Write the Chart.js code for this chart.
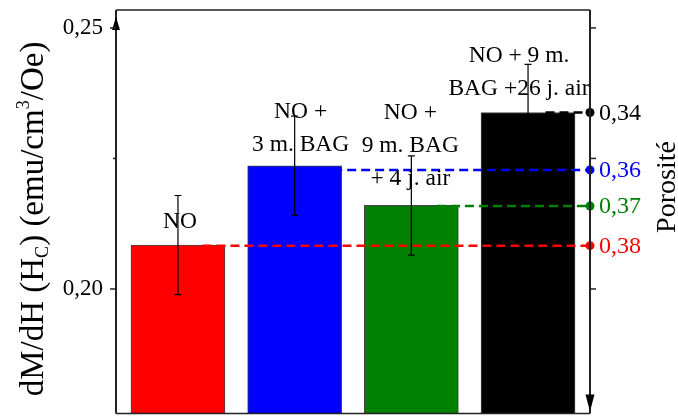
<!DOCTYPE html>
<html>
<head>
<meta charset="utf-8">
<script src="https://cdn.jsdelivr.net/npm/chart.js@4.4.1/dist/chart.umd.min.js"></script>
<style>
  html, body { margin: 0; padding: 0; background: #fff; }
  #wrap { width: 678px; height: 418px; }
</style>
</head>
<body>
<div id="wrap"><canvas id="chart" width="678" height="418"></canvas></div>
<script>
// ---- data ----
const categories = ['NO', 'NO + 3 m. BAG', 'NO + 9 m. BAG + 4 j. air', 'NO + 9 m. BAG +26 j. air'];
const barLabelLines = [
    ['NO'],
    ['NO +', '3 m. BAG'],
    ['NO +', '9 m. BAG', '+ 4 j. air'],
    ['NO + 9 m.', 'BAG +26 j. air']
];
const dMdH = [0.2084, 0.2236, 0.2160, 0.2338];
const dMdHErr = [0.0095, 0.0095, 0.0095, 0.0092];
const barColors = ['#ff0000', '#0000ff', '#008000', '#000000'];

const porosity = ['0,38', '0,36', '0,37', '0,34'];
const porosityLevel = [0.2083, 0.2228, 0.2159, 0.2338];
const porosityLineStart = [0.21, 1.33, 2.22, 3.15];

const yTicks = [0.20, 0.25];
const yTickLabels = ['0,20', '0,25'];
const yMinorTicks = [0.225];
const y2Ticks = [0.20, 0.225, 0.25];

const xMin = -0.531, xMax = 3.531;
const yMin = 0.17615, yMax = 0.25343;

const SERIF = '"Liberation Serif", "Times New Roman", serif';

// ---- datasets ----
const barData = dMdH.map((v, i) => ({ x: i, y: v }));

const porosityLines = porosityLevel.map((lvl, i) => ({
    type: 'line',
    data: [{ x: porosityLineStart[i], y: lvl }, { x: xMax, y: lvl }],
    borderColor: barColors[i],
    backgroundColor: barColors[i],
    borderWidth: 2.5,
    borderDash: [9, 5],
    pointRadius: [0, 4.5],
    pointBorderWidth: 0,
    pointBackgroundColor: barColors[i],
    clip: false,
    order: 1
}));

// ---- plugin: axes, error bars, texts ----
const decorations = {
    id: 'decorations',
    afterDatasetsDraw(chart) {
        const { ctx, chartArea: a, scales: { x, y } } = chart;
        ctx.save();

        // error bars
        ctx.strokeStyle = '#000';
        ctx.lineWidth = 1.2;
        dMdH.forEach((v, i) => {
            const px = x.getPixelForValue(i);
            const top = y.getPixelForValue(v + dMdHErr[i]);
            const bot = y.getPixelForValue(v - dMdHErr[i]);
            ctx.beginPath();
            ctx.moveTo(px, top); ctx.lineTo(px, bot);
            ctx.moveTo(px - 3.5, top); ctx.lineTo(px + 3.5, top);
            ctx.moveTo(px - 3.5, bot); ctx.lineTo(px + 3.5, bot);
            ctx.stroke();
        });

        // frame
        ctx.strokeStyle = '#222';
        ctx.lineWidth = 1.5;
        ctx.beginPath();
        ctx.moveTo(a.left, a.top); ctx.lineTo(a.right, a.top);
        ctx.moveTo(a.left, a.bottom); ctx.lineTo(a.right, a.bottom);
        ctx.stroke();
        ctx.lineWidth = 2;
        ctx.beginPath();
        ctx.moveTo(a.left, a.top); ctx.lineTo(a.left, a.bottom);
        ctx.moveTo(a.right, a.top); ctx.lineTo(a.right, a.bottom);
        ctx.stroke();

        // arrows
        ctx.fillStyle = '#000';
        ctx.beginPath();
        ctx.moveTo(a.left, a.top + 7);
        ctx.lineTo(a.left - 4, a.top + 20);
        ctx.lineTo(a.left + 4, a.top + 20);
        ctx.closePath(); ctx.fill();
        ctx.beginPath();
        ctx.moveTo(a.right, a.bottom - 2);
        ctx.lineTo(a.right - 4.5, a.bottom - 19);
        ctx.lineTo(a.right + 4.5, a.bottom - 19);
        ctx.closePath(); ctx.fill();

        // left ticks + labels
        ctx.strokeStyle = '#222';
        ctx.lineWidth = 1.5;
        ctx.font = '23px ' + SERIF;
        ctx.textAlign = 'right';
        ctx.textBaseline = 'middle';
        yTicks.forEach((t, i) => {
            const py = y.getPixelForValue(t);
            ctx.beginPath();
            ctx.moveTo(a.left - 6, py); ctx.lineTo(a.left, py);
            ctx.stroke();
            ctx.fillText(yTickLabels[i], a.left - 13, py);
        });
        yMinorTicks.forEach(t => {
            const py = y.getPixelForValue(t);
            ctx.beginPath();
            ctx.moveTo(a.left - 3, py); ctx.lineTo(a.left, py);
            ctx.stroke();
        });
        // right ticks
        y2Ticks.forEach(t => {
            const py = y.getPixelForValue(t);
            ctx.beginPath();
            ctx.moveTo(a.right, py); ctx.lineTo(a.right + 6, py);
            ctx.stroke();
        });

        // porosity labels
        ctx.textAlign = 'left';
        ctx.font = '24px ' + SERIF;
        porosity.forEach((p, i) => {
            ctx.fillStyle = barColors[i];
            ctx.fillText(p, a.right + 9, y.getPixelForValue(porosityLevel[i]) + 1);
        });

        // bar labels
        const labelDx = [2, 6, -1, -9];
        const labelGap = [17, 15, 20, 17];
        ctx.fillStyle = '#000';
        ctx.font = '23.5px ' + SERIF;
        ctx.textAlign = 'center';
        ctx.textBaseline = 'alphabetic';
        barLabelLines.forEach((lines, i) => {
            const px = x.getPixelForValue(i) + labelDx[i];
            const base = y.getPixelForValue(dMdH[i]) - labelGap[i];
            lines.forEach((line, k) => {
                ctx.fillText(line, px, base - (lines.length - 1 - k) * 33);
            });
        });

        // right title
        ctx.save();
        ctx.translate(675, 187);
        ctx.rotate(-Math.PI / 2);
        ctx.font = '28px ' + SERIF;
        ctx.textAlign = 'center';
        ctx.fillText('Porosité', 0, 0);
        ctx.restore();

        // left title with sub/superscript
        const F = 33;
        const parts = [
            { t: 'dM/dH (H', s: 1, dy: 0 },
            { t: 'C', s: 0.55, dy: 0.15 },
            { t: ') (emu/cm', s: 1, dy: 0 },
            { t: '3', s: 0.55, dy: -0.42 },
            { t: '/Oe)', s: 1, dy: 0 }
        ];
        ctx.save();
        ctx.translate(43, 219);
        ctx.rotate(-Math.PI / 2);
        ctx.textAlign = 'left';
        let total = 0;
        parts.forEach(p => {
            ctx.font = (F * p.s) + 'px ' + SERIF;
            p.w = ctx.measureText(p.t).width;
            total += p.w;
        });
        let cx = -total / 2;
        parts.forEach(p => {
            ctx.font = (F * p.s) + 'px ' + SERIF;
            ctx.fillText(p.t, cx, p.dy * F);
            cx += p.w;
        });
        ctx.restore();

        ctx.restore();
    }
};

new Chart(document.getElementById('chart').getContext('2d'), {
    type: 'bar',
    data: {
        labels: categories,
        datasets: [
            {
                data: barData,
                backgroundColor: barColors,
                borderColor: '#444',
                borderWidth: 1,
                barThickness: 94,
                order: 2
            },
            ...porosityLines
        ]
    },
    options: {
        responsive: false,
        animation: false,
        layout: { padding: { left: 116, right: 88, top: 10, bottom: 1.5 } },
        scales: {
            x: { type: 'linear', min: xMin, max: xMax, offset: false, display: false },
            y: { min: yMin, max: yMax, display: false }
        },
        plugins: {
            legend: { display: false },
            tooltip: { enabled: false }
        }
    },
    plugins: [decorations]
});
</script>
</body>
</html>
